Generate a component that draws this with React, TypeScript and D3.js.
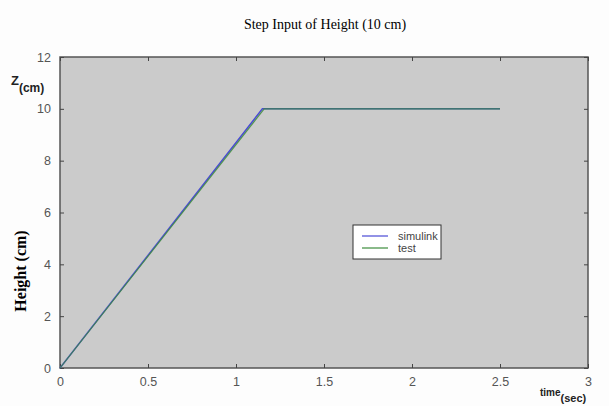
import React, { useEffect, useRef } from 'react';
import * as d3 from 'd3';

const simTime = [0, 1.15, 2.5];
const simulink = [0, 10, 10];
const testTime = [0, 1.16, 2.5];
const test = [0, 10, 10];
const xTicks = [0, 0.5, 1, 1.5, 2, 2.5, 3];
const yTicks = [0, 2, 4, 6, 8, 10, 12];
const legendItems = [
  { name: 'simulink', color: '#4a4ad6' },
  { name: 'test', color: '#3c8c3c' },
];

const App: React.FC = () => {
  const svgRef = useRef<SVGSVGElement>(null);

  useEffect(() => {
    if (!svgRef.current) return;
    const svg = d3.select(svgRef.current);
    svg.selectAll('*').remove();

    const width = 609;
    const height = 406;
    const margin = { top: 57, right: 21, bottom: 38, left: 60 };

    const x = d3.scaleLinear().domain([0, 3]).range([margin.left, width - margin.right]);
    const y = d3.scaleLinear().domain([0, 12]).range([height - margin.bottom, margin.top]);

    svg.append('rect').attr('width', width).attr('height', height).attr('fill', '#fdfdfd');

    svg
      .append('rect')
      .attr('x', x(0))
      .attr('y', y(12))
      .attr('width', x(3) - x(0))
      .attr('height', y(0) - y(12))
      .attr('fill', '#cbcbcb')
      .attr('stroke', '#555')
      .attr('stroke-width', 1.5);

    // ticks on all four sides, pointing inward
    const tickStyle = (g: d3.Selection<SVGGElement, unknown, null, undefined>) => {
      g.select('.domain').remove();
      g.selectAll('.tick line').attr('stroke', '#444');
      g.selectAll('.tick text')
        .attr('fill', '#555')
        .style('font-family', 'Liberation Sans, Arial, sans-serif')
        .style('font-size', '12.5px');
    };

    svg
      .append('g')
      .attr('transform', `translate(0,${y(0)})`)
      .call(d3.axisBottom(x).tickValues(xTicks).tickFormat(d3.format('')).tickSizeInner(-4).tickPadding(9))
      .call(tickStyle);
    svg
      .append('g')
      .attr('transform', `translate(0,${y(12)})`)
      .call(d3.axisTop(x).tickValues(xTicks).tickFormat(() => '').tickSizeInner(-4))
      .call(tickStyle);
    svg
      .append('g')
      .attr('transform', `translate(${x(0)},0)`)
      .call(d3.axisLeft(y).tickValues(yTicks).tickFormat(d3.format('')).tickSizeInner(-4).tickPadding(9))
      .call(tickStyle);
    svg
      .append('g')
      .attr('transform', `translate(${x(3)},0)`)
      .call(d3.axisRight(y).tickValues(yTicks).tickFormat(() => '').tickSizeInner(-4))
      .call(tickStyle);

    const line = d3
      .line<[number, number]>()
      .x((d) => x(d[0]))
      .y((d) => y(d[1]));

    svg
      .append('path')
      .attr('d', line(simTime.map((t, i) => [t, simulink[i]] as [number, number])))
      .attr('fill', 'none')
      .attr('stroke', legendItems[0].color)
      .attr('stroke-width', 1.5);
    svg
      .append('path')
      .attr('d', line(testTime.map((t, i) => [t, test[i]] as [number, number])))
      .attr('fill', 'none')
      .attr('stroke', legendItems[1].color)
      .attr('stroke-width', 1.2)
      .attr('opacity', 0.85);

    // legend
    const lg = svg.append('g').attr('transform', 'translate(353,225)');
    lg.append('rect').attr('width', 88).attr('height', 34).attr('fill', '#fff').attr('stroke', '#333');
    legendItems.forEach((d, i) => {
      lg.append('line')
        .attr('x1', 9)
        .attr('x2', 35)
        .attr('y1', 11 + i * 12)
        .attr('y2', 11 + i * 12)
        .attr('stroke', d.color)
        .attr('stroke-width', 1.2);
      lg.append('text')
        .attr('x', 45)
        .attr('y', 15 + i * 12)
        .attr('fill', '#444')
        .style('font-family', 'Liberation Sans, Arial, sans-serif')
        .style('font-size', '11px')
        .text(d.name);
    });

    svg
      .append('text')
      .attr('x', 325)
      .attr('y', 29)
      .attr('text-anchor', 'middle')
      .style('font-family', 'Liberation Serif, Times New Roman, serif')
      .style('font-size', '14px')
      .text('Step Input of Height (10 cm)');

    svg
      .append('text')
      .attr('transform', 'translate(26,271) rotate(-90)')
      .attr('text-anchor', 'middle')
      .style('font-family', 'Liberation Serif, Times New Roman, serif')
      .style('font-size', '16px')
      .style('font-weight', 'bold')
      .text('Height (cm)');

    const zLabel = svg
      .append('text')
      .attr('x', 11)
      .attr('y', 85)
      .style('font-family', 'Liberation Sans, Arial, sans-serif')
      .style('font-weight', 'bold')
      .attr('fill', '#222');
    zLabel.append('tspan').style('font-size', '13px').text('Z');
    zLabel.append('tspan').attr('dy', 7).style('font-size', '12px').text('(cm)');

    const tLabel = svg
      .append('text')
      .attr('x', 540)
      .attr('y', 396)
      .style('font-family', 'Liberation Sans, Arial, sans-serif')
      .style('font-weight', 'bold')
      .attr('fill', '#222');
    tLabel.append('tspan').style('font-size', '10px').text('time');
    tLabel.append('tspan').attr('dy', 6).style('font-size', '11px').text('(sec)');
  }, []);

  return (
    <svg
      ref={svgRef}
      width={609}
      height={406}
      style={{ position: 'absolute', left: 0, top: 0 }}
    ></svg>
  );
};

export default App;
